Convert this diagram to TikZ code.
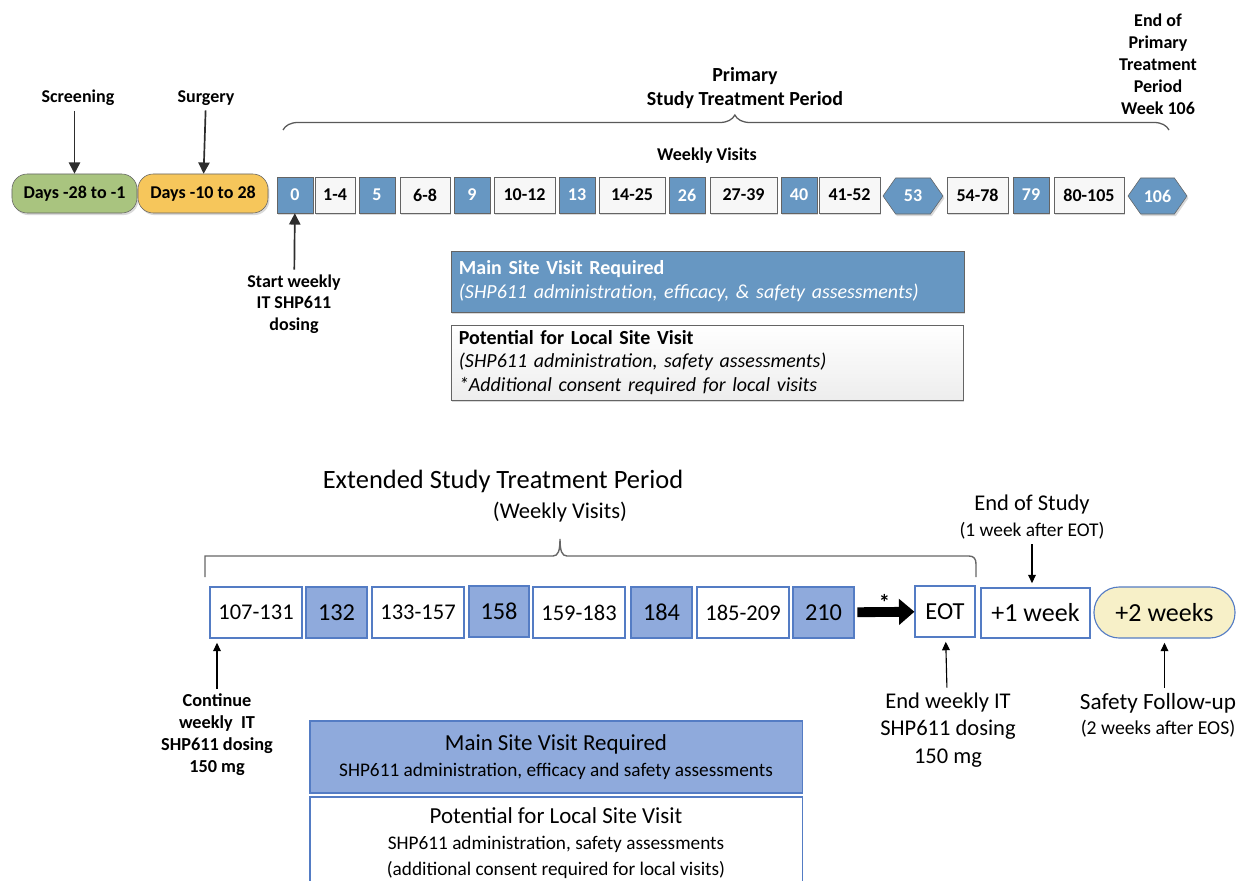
\documentclass[tikz,border=0pt]{standalone}
\usepackage{fontspec}
\setmainfont{Carlito}
\usetikzlibrary{shapes.symbols, decorations.pathreplacing, arrows.meta, shadows}

\definecolor{visitblue}{RGB}{103,151,194}
\definecolor{screengreen}{RGB}{169,196,127}
\definecolor{surgorange}{RGB}{246,198,91}
\definecolor{extblue}{RGB}{143,170,220}
\definecolor{extborder}{RGB}{84,124,196}
\definecolor{followyellow}{RGB}{247,240,200}
\definecolor{boxgray}{RGB}{100,100,100}

\tikzset{
    toplbl/.style={font=\fontsize{12.8}{15.6}\selectfont\bfseries, align=center},
    topshadow/.style={drop shadow={shadow xshift=1pt, shadow yshift=-1.5pt, opacity=0.3}},
    phasepill/.style={draw=boxgray, rounded corners=0.38cm, minimum height=0.975cm, font=\fontsize{12.8}{15}\selectfont\bfseries, topshadow},
    mainvisit/.style={draw=boxgray, fill=visitblue, text=white, minimum width=0.9cm, minimum height=0.9cm, inner sep=0pt, font=\fontsize{12.8}{15}\selectfont\bfseries, topshadow},
    localvisit/.style={draw=boxgray, fill=gray!6, minimum height=0.9cm, inner sep=0pt, font=\fontsize{12.8}{15}\selectfont\bfseries, topshadow},
    hexvisit/.style={signal, signal to=east and west, signal pointer angle=110, draw=boxgray, fill=visitblue, text=white, minimum width=1.5cm, minimum height=0.9cm, inner sep=0pt, font=\fontsize{12.8}{15}\selectfont\bfseries, topshadow},
    toparr/.style={-{Triangle[length=8pt, width=8pt]}, draw=gray!35!black, line width=1.2pt},
    extrange/.style={draw=extborder, fill=white, line width=0.8pt, minimum width=2.3cm, minimum height=1.275cm, inner sep=0pt, font=\fontsize{16}{19}\selectfont},
    extweek/.style={draw=extborder, fill=extblue, line width=0.8pt, minimum width=1.525cm, minimum height=1.275cm, inner sep=0pt, font=\fontsize{17.3}{20}\selectfont},
    botarr/.style={-{Triangle[length=6pt, width=5.5pt]}, line width=0.8pt, shorten >=3pt},
    botlbl/.style={font=\fontsize{16}{19.6}\selectfont, align=center}
}

\begin{document}
\begin{tikzpicture}[x=0.025cm, y=-0.025cm]
    \useasboundingbox (0,0) rectangle (1238,881);
    \clip (0,0) rectangle (1238,881);

    % Screening and surgery phases
    \node[phasepill, fill=screengreen, minimum width=3.125cm] (screen) at (74.5,193.5) {Days -28 to -1};
    \node[phasepill, fill=surgorange, minimum width=3.25cm] (surgery) at (203,193.5) {Days -10 to 28};
    \node[toplbl] (scrlbl) at (78,98) {Screening};
    \node[toplbl] (surglbl) at (206,98) {Surgery};
    \draw[toparr] (scrlbl.south -| screen) -- (screen);
    \draw[toparr] (surglbl) -- (surgery);

    % Primary treatment period, weekly visits
    \node[mainvisit] (w0) at (295,195) {0};
    \node[localvisit, minimum width=1cm] (w1) at (335,195) {1-4};
    \node[mainvisit] (w5) at (377,195) {5};
    \node[localvisit, minimum width=1.25cm] (w6) at (425,195) {6-8};
    \node[mainvisit] (w9) at (472,195) {9};
    \node[localvisit, minimum width=1.525cm] (w10) at (524.5,195) {10-12};
    \node[mainvisit] (w13) at (577,195) {13};
    \node[localvisit, minimum width=1.65cm] (w14) at (632,195) {14-25};
    \node[mainvisit] (w26) at (687,195) {26};
    \node[localvisit, minimum width=1.675cm] (w27) at (743.5,195) {27-39};
    \node[mainvisit] (w40) at (799,195) {40};
    \node[localvisit, minimum width=1.525cm] (w41) at (849.5,195) {41-52};
    \node[hexvisit] (w53) at (913,196) {53};
    \node[localvisit, minimum width=1.525cm] (w54) at (977.5,195) {54-78};
    \node[mainvisit] (w79) at (1031,195) {79};
    \node[localvisit, minimum width=1.75cm] (w80) at (1089,195) {80-105};
    \node[hexvisit, minimum width=1.475cm] (w106) at (1157.5,196) {106};

    % Period labels
    \draw[decorate, decoration={brace, amplitude=0.375cm, aspect=0.51}, draw=gray!70!black, line width=0.9pt] (283,130) -- (1169,130);
    \node[toplbl, font=\fontsize{14.2}{16.5}\selectfont\bfseries] (primlbl) at (745,88) {Primary\\Study Treatment Period};
    \node[toplbl] (weeklbl) at (707,156) {Weekly Visits};
    \node[toplbl] (endprim) at (1158,64) {End of\\Primary\\Treatment\\Period\\Week 106};
    \node[toplbl, font=\fontsize{12.8}{15.3}\selectfont\bfseries] (startlbl) at (294,304) {Start weekly\\IT SHP611\\dosing};
    \draw[toparr] (startlbl) -- (w0);

    % Legend, primary period
    \node[draw=boxgray, fill=visitblue, text=white, minimum width=12.825cm, minimum height=1.525cm, inner xsep=0.2cm, text width=12.425cm, align=left, font=\fontsize{14.2}{17}\selectfont, topshadow] (mainsite) at (707.5,281.5) {\textbf{Main Site Visit Required}\\\textit{(SHP611 administration, efficacy, \& safety assessments)}};
    \node[draw=boxgray, top color=white, bottom color=gray!14, minimum width=12.8cm, minimum height=1.875cm, inner xsep=0.2cm, text width=12.4cm, align=left, font=\fontsize{14.2}{16.7}\selectfont, topshadow] (localsite) at (707,362.5) {\textbf{Potential for Local Site Visit}\\\textit{(SHP611 administration, safety assessments)}\\\textit{*Additional consent required for local visits}};

    % Extended treatment period
    \node[font=\fontsize{18.8}{22}\selectfont] (extlbl) at (503,481) {Extended Study Treatment Period};
    \node[font=\fontsize{16}{19}\selectfont] (extweeklbl) at (560,512) {(Weekly Visits)};
    \draw[gray!80!black, line width=1pt] (205,577) -- (205,556) -- (553,556) .. controls (558,556) and (560,551) .. (560,539) .. controls (560,551) and (562,556) .. (567,556) -- (969,556) .. controls (974,556) and (976,559) .. (976,564) -- (976,577);

    \node[extrange] (w107) at (256,612.5) {107-131};
    \node[extweek] (w132) at (336.5,612.5) {132};
    \node[extrange] (w133) at (418,612.5) {133-157};
    \node[extweek, minimum width=1.5cm] (w158) at (499,611.5) {158};
    \node[extrange] (w159) at (579,612.5) {159-183};
    \node[extweek] (w184) at (661.5,612.5) {184};
    \node[extrange] (w185) at (743,612.5) {185-209};
    \node[extweek] (w210) at (823.5,612.5) {210};
    \node[extrange, minimum width=1.5cm, font=\fontsize{17.4}{20}\selectfont] (eot) at (945,611.5) {EOT};
    \node[extrange, minimum width=2.725cm, minimum height=1.25cm, font=\fontsize{18.5}{21}\selectfont] (wk1) at (1035.5,613) {+1 week};
    \node[draw=extborder, fill=followyellow, line width=0.8pt, rounded corners=0.63cm, minimum width=3.525cm, minimum height=1.275cm, font=\fontsize{18.5}{21}\selectfont] (wk2) at (1164.5,612.5) {+2 weeks};
    \draw[-{Triangle[length=11pt, width=18pt]}, line width=7pt, shorten <=2pt] (w210) -- (eot) node[pos=0.5, yshift=7pt, font=\fontsize{16}{19}\selectfont\bfseries] (star) {*};

    % Extended period labels
    \node[toplbl, font=\fontsize{13}{15.6}\selectfont\bfseries] (conlbl) at (217,735) {Continue\\weekly\ \ IT\\SHP611 dosing\\150 mg};
    \draw[botarr] (conlbl.north) -- (conlbl.north |- w107.south);
    \node[botlbl] (endlbl) at (948,730) {End weekly IT\\SHP611 dosing\\150 mg};
    \draw[botarr] (endlbl) -- (eot);
    \node[botlbl, font=\fontsize{16}{18.5}\selectfont] (eoslbl) at (1032,517) {End of Study\\{\fontsize{13.8}{16}\selectfont (1 week after EOT)}};
    \draw[botarr] (eoslbl) -- (eoslbl |- wk1.north);
    \node[botlbl, font=\fontsize{16.5}{18}\selectfont] (safelbl) at (1158,715) {Safety Follow-up\\{\fontsize{14}{16}\selectfont (2 weeks after EOS)}};
    \draw[botarr] (safelbl.north -| wk2) -- (wk2);

    % Legend, extended period
    \node[draw=extborder, fill=extblue, line width=0.8pt, minimum width=12.3cm, minimum height=1.8cm, align=center, font=\fontsize{16.3}{18.5}\selectfont] (extmain) at (556,757) {Main Site Visit Required\\{\fontsize{13.7}{16}\selectfont SHP611 administration, efficacy and safety assessments}};
    \node[draw=extborder, fill=white, line width=0.8pt, minimum width=12.3cm, minimum height=2.325cm, align=center, font=\fontsize{16.3}{18.5}\selectfont] (extlocal) at (556,843.5) {Potential for Local Site Visit\\{\fontsize{13.7}{16.5}\selectfont SHP611 administration, safety assessments}\\{\fontsize{13.7}{16.5}\selectfont (additional consent required for local visits)}};
\end{tikzpicture}
\end{document}
